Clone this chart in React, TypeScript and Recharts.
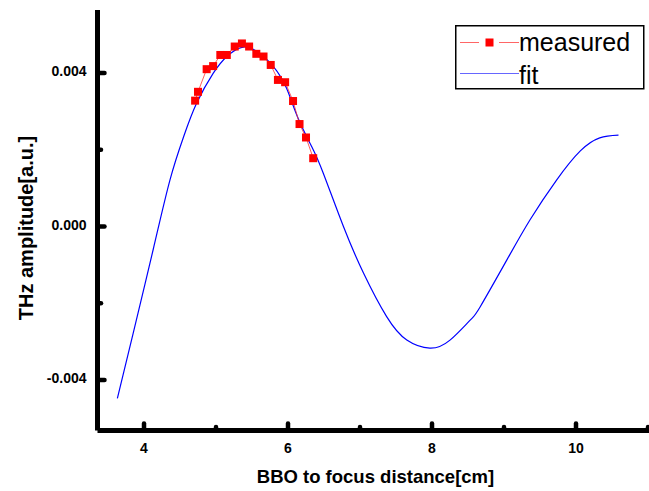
import { ComposedChart, Line, XAxis, YAxis, Legend, Label } from 'recharts';

// values
const fitX = [3.63, 3.85, 4.13, 4.36, 4.55, 4.73, 4.96, 5.15, 5.36, 5.57, 5.8, 5.98, 6.14, 6.33, 6.49, 6.77, 7.05, 7.37, 7.65, 7.97, 8.25, 8.53, 8.67, 9.04, 9.36, 9.73, 10.06, 10.33, 10.59];
const fitY = [-0.00448, -0.00278, -0.00058, 0.00121, 0.00234, 0.00321, 0.00399, 0.00443, 0.00467, 0.00456, 0.00416, 0.0036, 0.00282, 0.00208, 0.00139, 0.0, -0.00122, -0.00235, -0.00296, -0.00317, -0.00296, -0.00244, -0.00209, -0.00087, 0.00017, 0.00121, 0.00197, 0.00231, 0.00238];

const measuredX = [4.71, 4.75, 4.87, 4.96, 5.06, 5.15, 5.26, 5.36, 5.46, 5.56, 5.66, 5.76, 5.86, 5.96, 6.07, 6.16, 6.25, 6.35];
const measuredY = [0.00328, 0.00351, 0.0041, 0.00418, 0.00447, 0.00447, 0.00469, 0.00477, 0.00469, 0.0045, 0.00443, 0.00421, 0.00382, 0.00376, 0.00327, 0.00267, 0.00232, 0.00178];

const xTicks = [4, 5, 6, 7, 8, 9, 10, 11];
const xLabelTicks = [4, 6, 8, 10];
const yTicks = [-0.004, -0.002, 0, 0.002, 0.004];
const yLabelTicks = [-0.004, 0, 0.004];

const fitData = fitX.map((x, i) => ({ x, y: fitY[i] }));
const measuredData = measuredX.map((x, i) => ({ x, y: measuredY[i] }));

const FONT = '"Liberation Sans", Arial, sans-serif';

const XTick = (props: any) => {
  const { x, y, payload } = props;
  const major = xLabelTicks.includes(payload.value);
  return (
    <g>
      <line x1={x} y1={y} x2={x} y2={y - (major ? 7 : 3.5)} stroke="#000" strokeWidth={4.5} strokeLinecap="round" />
      {major && (
        <text x={x} y={y + 22} textAnchor="middle" fontFamily={FONT} fontWeight="bold" fontSize={14} fill="#000">
          {payload.value}
        </text>
      )}
    </g>
  );
};

const YTick = (props: any) => {
  const { x, y, payload } = props;
  const major = yLabelTicks.some((v) => Math.abs(v - payload.value) < 1e-9);
  return (
    <g>
      <line x1={x} y1={y} x2={x + (major ? 7 : 3.5)} y2={y} stroke="#000" strokeWidth={4.5} strokeLinecap="round" />
      {major && (
        <text x={x - 11} y={y + 3} textAnchor="end" fontFamily={FONT} fontWeight="bold" fontSize={14} fill="#000">
          {payload.value.toFixed(3)}
        </text>
      )}
    </g>
  );
};

const Square = (props: any) => {
  const { cx, cy } = props;
  if (cx == null || cy == null) return null;
  return <rect x={cx - 4} y={cy - 4} width={8} height={8} fill="#ff0000" />;
};

const renderLegend = () => (
  <svg width={190} height={65}>
    <rect x={0.75} y={0.75} width={188} height={63} fill="#fff" stroke="#000" strokeWidth={1.5} />
    <line x1={5} y1={17.5} x2={24} y2={17.5} stroke="#ff6666" strokeWidth={1} />
    <rect x={30.5} y={13.5} width={8} height={8} fill="#ff0000" />
    <line x1={44} y1={17.5} x2={64} y2={17.5} stroke="#ff6666" strokeWidth={1} />
    <text x={64} y={26} fontFamily={FONT} fontSize={25} fill="#000">measured</text>
    <line x1={5} y1={48.5} x2={64} y2={48.5} stroke="#6666ff" strokeWidth={1} />
    <text x={64} y={58.5} fontFamily={FONT} fontSize={25} fill="#000">fit</text>
  </svg>
);

const App = () => {
  return (
    <div style={{ position: 'fixed', left: 0, top: 0, width: 649, height: 491, overflow: 'hidden', background: '#fff' }}>
      <ComposedChart width={700} height={491} margin={{ top: 10, right: 30.4, bottom: 0.5, left: 7.5 }}>
        <XAxis
          dataKey="x"
          type="number"
          domain={[3.354, 11.3]}
          ticks={xTicks}
          tick={<XTick />}
          tickLine={false}
          tickSize={0}
          tickMargin={0}
          height={60}
          axisLine={{ stroke: '#000', strokeWidth: 5 }}
          allowDataOverflow
        >
          <Label
            content={() => (
              <text x={375.5} y={482.5} textAnchor="middle" fontFamily={FONT} fontWeight="bold" fontSize={18.5} fill="#000">
                BBO to focus distance[cm]
              </text>
            )}
          />
        </XAxis>
        <XAxis
          xAxisId="top"
          orientation="top"
          type="number"
          domain={[3.354, 11.3]}
          height={0}
          tick={false}
          tickLine={false}
          axisLine={{ stroke: '#000', strokeWidth: 5 }}
        />
        <YAxis
          dataKey="y"
          type="number"
          domain={[-0.005316, 0.005642]}
          ticks={yTicks}
          tick={<YTick />}
          tickLine={false}
          tickSize={0}
          tickMargin={0}
          width={90}
          axisLine={{ stroke: '#000', strokeWidth: 5 }}
          allowDataOverflow
        >
          <Label
            content={() => (
              <text x={33} y={228} transform="rotate(-90 33 228)" textAnchor="middle" fontFamily={FONT} fontWeight="bold" fontSize={20} fill="#000">
                THz amplitude[a.u.]
              </text>
            )}
          />
        </YAxis>
        <Legend
          layout="vertical"
          align="center"
          verticalAlign="middle"
          content={renderLegend}
          wrapperStyle={{ position: 'absolute', left: 455, top: 24.5, width: 190, height: 65 }}
        />
        <Line
          data={fitData}
          dataKey="y"
          name="fit"
          type="natural"
          stroke="#0000ff"
          strokeWidth={1.2}
          dot={false}
          activeDot={false}
          isAnimationActive={false}
        />
        <Line
          data={measuredData}
          dataKey="y"
          name="measured"
          type="linear"
          stroke="#ff3333"
          strokeWidth={0.8}
          dot={<Square />}
          activeDot={false}
          isAnimationActive={false}
        />
      </ComposedChart>
    </div>
  );
};

export default App;
